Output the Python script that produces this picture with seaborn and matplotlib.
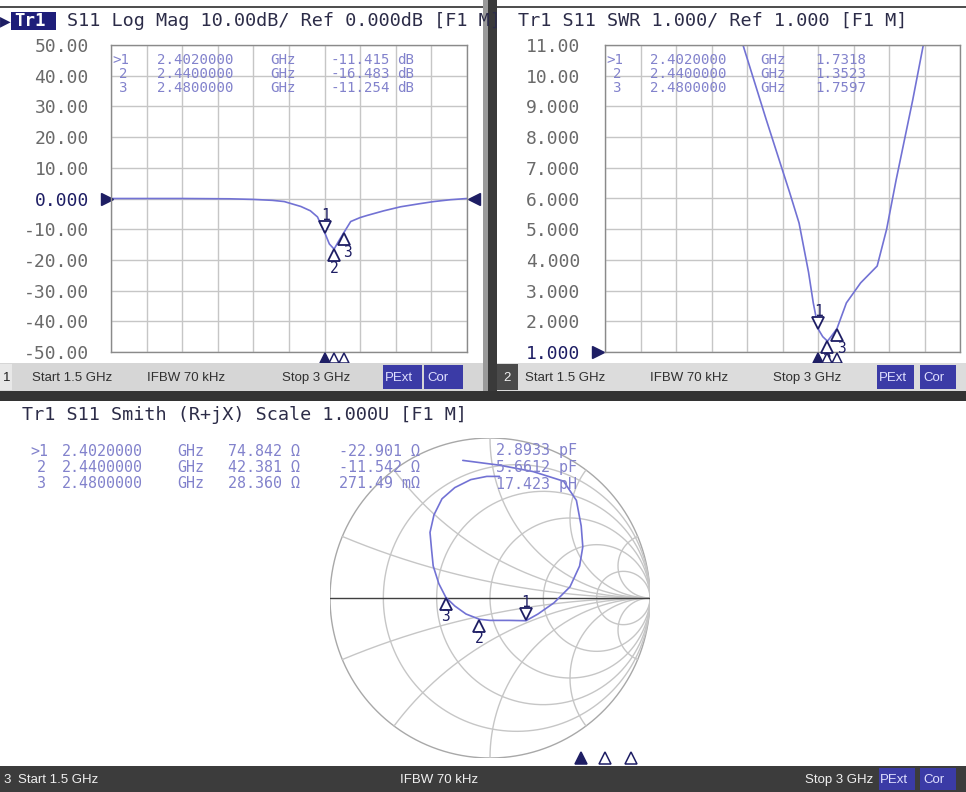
import numpy as np
import seaborn as sns
import matplotlib.pyplot as plt
from matplotlib.patches import Rectangle
from matplotlib import transforms

# ---- values ----
freq_start, freq_stop = 1.5, 3.0  # GHz

# channel 1: S11 log magnitude (dB)
logmag_freq = [1.50, 1.80, 2.00, 2.10, 2.18, 2.23, 2.30, 2.34, 2.37, 2.402, 2.42, 2.44,
               2.46, 2.48, 2.51, 2.55, 2.58, 2.65, 2.72, 2.80, 2.86, 2.93, 3.00]
logmag_db = [0.0, 0.0, -0.1, -0.3, -0.6, -1.0, -2.6, -4.0, -6.0, -11.415, -14.8, -16.483,
             -13.8, -11.254, -7.5, -6.2, -5.5, -4.0, -2.7, -1.7, -1.0, -0.4, 0.0]

# channel 2: S11 SWR
swr_freq = [2.07, 2.083, 2.18, 2.28, 2.32, 2.36, 2.38, 2.402, 2.42, 2.44, 2.46, 2.48,
            2.52, 2.58, 2.65, 2.69, 2.73, 2.80, 2.845, 2.86]
swr_val = [11.6, 11.0, 8.6, 6.2, 5.2, 3.6, 2.6, 1.7318, 1.5, 1.3523, 1.55, 1.7597,
           2.6, 3.25, 3.8, 5.0, 6.6, 9.2, 11.0, 11.6]

# channel 3: S11 on the Smith chart (reflection coefficient)
smith_re = [-0.17, 0.06, 0.27, 0.46, 0.54, 0.57, 0.58, 0.56, 0.50, 0.40, 0.30, 0.225,
            0.12, 0.0, -0.066, -0.15, -0.22, -0.276, -0.32, -0.355, -0.365, -0.375,
            -0.35, -0.30, -0.22, -0.12, -0.02, 0.06]
smith_im = [0.86, 0.83, 0.79, 0.73, 0.61, 0.45, 0.32, 0.20, 0.07, -0.03, -0.10, -0.142,
            -0.14, -0.14, -0.133, -0.10, -0.05, 0.004, 0.09, 0.20, 0.30, 0.41,
            0.52, 0.62, 0.69, 0.74, 0.76, 0.76]

# markers
mk_freq = [2.402, 2.44, 2.48]
mk_freq_txt = ["2.4020000", "2.4400000", "2.4800000"]
mk_db = [-11.415, -16.483, -11.254]
mk_swr = [1.7318, 1.3523, 1.7597]
mk_r = [74.842, 42.381, 28.360]
mk_x = [-22.901, -11.542, 0.27149]
mk_x_txt = ["-22.901 Ω", "-11.542 Ω", "271.49 mΩ"]
mk_lc_txt = ["2.8933 pF", "5.6612 pF", "17.423 pH"]
z0 = 50.0

logmag_ticks = [50, 40, 30, 20, 10, 0, -10, -20, -30, -40, -50]
logmag_tick_txt = ["50.00", "40.00", "30.00", "20.00", "10.00", "0.000",
                   "-10.00", "-20.00", "-30.00", "-40.00", "-50.00"]
swr_ticks = [11, 10, 9, 8, 7, 6, 5, 4, 3, 2, 1]
swr_tick_txt = ["11.00", "10.00", "9.000", "8.000", "7.000", "6.000",
                "5.000", "4.000", "3.000", "2.000", "1.000"]

# ---- styling ----
sns.set_style("white")
plt.rcParams['font.family'] = ['DejaVu Sans Mono']
W, H = 966, 792
trace_c = '#7272d4'
grid_c = '#c6c6c6'
navy = '#1e1e64'
table_c = '#8282cc'
tick_c = '#6a6a6a'
title_c = '#2c2c48'
sans = ['Liberation Sans', 'DejaVu Sans']


def box(x0, y0, x1, y1):
    return [x0 / W, 1 - y1 / H, (x1 - x0) / W, (y1 - y0) / H]


fig = plt.figure(figsize=(W / 100, H / 100), dpi=100)
bg = fig.add_axes([0, 0, 1, 1], zorder=3)
bg.set_xlim(0, W)
bg.set_ylim(H, 0)
bg.axis('off')
bg.patch.set_visible(False)


def rect(x0, y0, x1, y1, color, z=1):
    bg.add_patch(Rectangle((x0, y0), x1 - x0, y1 - y0, color=color, zorder=z, lw=0))


# separators and frames
rect(0, 6, 483, 8, '#505050')
rect(497, 6, W, 8, '#505050')
rect(483, 0, 488, 400, '#9a9a9a', z=3)
rect(488, 0, 497, 400, '#3a3a3a', z=3)
rect(0, 391, W, 401, '#333333', z=3)

# status bars of the two upper channels
rect(0, 363, 483, 391, '#d6d6d6')
rect(0, 364, 12, 390, '#e8e8e8')
rect(497, 363, W, 391, '#dcdcdc')
rect(497, 364, 518, 390, '#4a4a4a')
for x0, x1 in [(383, 422), (424, 463), (877, 914), (920, 956)]:
    rect(x0, 365, x1, 389, '#3b3ba6')
st_kw = dict(fontsize=9.5, family=sans, va='center', zorder=4)
bg.text(3, 378, "1", color='#202020', **st_kw)
bg.text(32, 378, "Start 1.5 GHz", color='#303030', **st_kw)
bg.text(147, 378, "IFBW 70 kHz", color='#303030', **st_kw)
bg.text(282, 378, "Stop 3 GHz", color='#303030', **st_kw)
bg.text(385, 378, "PExt", color='#e0e0ff', **st_kw)
bg.text(427, 378, "Cor", color='#e0e0ff', **st_kw)
bg.text(503, 378, "2", color='#f0f0f0', **st_kw)
bg.text(525, 378, "Start 1.5 GHz", color='#303030', **st_kw)
bg.text(650, 378, "IFBW 70 kHz", color='#303030', **st_kw)
bg.text(773, 378, "Stop 3 GHz", color='#303030', **st_kw)
bg.text(879, 378, "PExt", color='#e0e0ff', **st_kw)
bg.text(923, 378, "Cor", color='#e0e0ff', **st_kw)

# status bar of the Smith channel
rect(0, 766, W, H, '#3c3c3c')
bg.text(3, 780, "3", color='#f0f0f0', **st_kw)
bg.text(18, 780, "Start 1.5 GHz", color='#f0f0f0', **st_kw)
bg.text(400, 780, "IFBW 70 kHz", color='#f0f0f0', **st_kw)
bg.text(805, 780, "Stop 3 GHz", color='#f0f0f0', **st_kw)
rect(879, 768, 915, 790, '#3b3ba6')
rect(920, 768, 956, 790, '#3b3ba6')
bg.text(880, 780, "PExt", color='#e0e0ff', **st_kw)
bg.text(923, 780, "Cor", color='#e0e0ff', **st_kw)

# channel titles
clip_left = Rectangle((0, 0), 483, 30, transform=bg.transData)
bg.text(0, 21, "▶", color=navy, fontsize=10, va='center', family=['DejaVu Sans'])
rect(11, 12, 56, 30, '#1e1e7a')
bg.text(14, 21, "Tr1", color='white', fontsize=12.5, va='center', fontweight='bold')
t = bg.text(67, 21, "S11 Log Mag 10.00dB/ Ref 0.000dB [F1 M]", color=title_c,
            fontsize=13.3, va='center')
t.set_clip_path(clip_left)
bg.text(518, 21, "Tr1 S11 SWR 1.000/ Ref 1.000 [F1 M]", color=title_c,
        fontsize=13.3, va='center')
bg.text(22, 415, "Tr1 S11 Smith (R+jX) Scale 1.000U [F1 M]", color=title_c,
        fontsize=13.3, va='center')


def draw_marker(ax, x, y, label, up, lab_dx=0):
    base = ax.transData
    off = -4.5 if up else 4.5
    tr = transforms.offset_copy(base, fig=fig, x=0, y=off, units='points')
    ax.plot([x], [y], marker='^' if up else 'v', ms=9, mfc='white', mec=navy,
            mew=1.3, transform=tr, clip_on=False, zorder=6, ls='none')
    ax.annotate(label, (x, y), xytext=(lab_dx, -14 if up else 13),
                textcoords='offset points', ha='center', va='center', color=navy,
                fontsize=10.5, zorder=6)


def rect_panel(ax, ticks, tick_txt, ref_idx):
    ax.set_xlim(freq_start, freq_stop)
    ax.set_xticks(np.linspace(freq_start, freq_stop, 11))
    ax.set_yticks(ticks)
    ax.set_xticklabels([])
    ax.set_yticklabels(tick_txt)
    ax.grid(True, color=grid_c, lw=1)
    ax.tick_params(length=0, labelsize=13, labelcolor=tick_c)
    ax.get_yticklabels()[ref_idx].set_color(navy)
    ax.set_xlabel('')
    ax.set_ylabel('')
    for s in ax.spines.values():
        s.set_color('#8a8a8a')
        s.set_linewidth(1)


# ---- channel 1: log magnitude ----
ax1 = fig.add_axes(box(111, 45, 467, 352), zorder=2)
sns.lineplot(x=logmag_freq, y=logmag_db, ax=ax1, color=trace_c, lw=1.2,
             estimator=None, sort=False)
ax1.set_ylim(-50, 50)
rect_panel(ax1, logmag_ticks, logmag_tick_txt, 5)
ax1.tick_params(axis='y', pad=16)
ax1.plot([0.0], [0], marker='>', ms=8, color=navy, transform=transforms.offset_copy(
    ax1.get_yaxis_transform(), fig=fig, x=-3, y=0, units='points'), clip_on=False)
ax1.plot([1.0], [0], marker='<', ms=8, color=navy, transform=transforms.offset_copy(
    ax1.get_yaxis_transform(), fig=fig, x=5, y=0, units='points'), clip_on=False)

draw_marker(ax1, mk_freq[0], mk_db[0], "1", up=False)
draw_marker(ax1, mk_freq[1], mk_db[1], "2", up=True)
draw_marker(ax1, mk_freq[2], mk_db[2], "3", up=True, lab_dx=3)

# ---- channel 2: SWR ----
ax2 = fig.add_axes(box(605, 45, 960, 352), zorder=2)
sns.lineplot(x=swr_freq, y=swr_val, ax=ax2, color=trace_c, lw=1.2,
             estimator=None, sort=False)
ax2.set_ylim(1, 11)
rect_panel(ax2, swr_ticks, swr_tick_txt, 10)
ax2.tick_params(axis='y', pad=18)
ax2.plot([0.0], [1], marker='>', ms=8, color=navy, transform=transforms.offset_copy(
    ax2.get_yaxis_transform(), fig=fig, x=-5, y=0, units='points'), clip_on=False)

draw_marker(ax2, mk_freq[0], mk_swr[0], "1", up=False)
draw_marker(ax2, mk_freq[1], mk_swr[1], "2", up=True)
draw_marker(ax2, mk_freq[2], mk_swr[2], "3", up=True, lab_dx=3)

# marker position indicators below the frequency axis
for ax in (ax1, ax2):
    btr = transforms.blended_transform_factory(ax.transData, ax.transAxes)
    for i, f in enumerate(mk_freq):
        ax.plot([f], [-0.02], marker='^', ms=7, transform=btr, clip_on=False,
                mfc=navy if i == 0 else 'white', mec=navy, mew=1.1, zorder=6)

# marker tables
tbl_kw = dict(color=table_c, fontsize=10.2, va='center', zorder=5)
for i in range(3):
    y = 60 + 14 * i
    bg.text(112 if i == 0 else 119, y, (">" if i == 0 else "") + str(i + 1), **tbl_kw)
    bg.text(157, y, mk_freq_txt[i], **tbl_kw)
    bg.text(270, y, "GHz", **tbl_kw)
    bg.text(390, y, f"{mk_db[i]:.3f}", ha='right', **tbl_kw)
    bg.text(397, y, "dB", **tbl_kw)
    bg.text(606 if i == 0 else 613, y, (">" if i == 0 else "") + str(i + 1), **tbl_kw)
    bg.text(650, y, mk_freq_txt[i], **tbl_kw)
    bg.text(760, y, "GHz", **tbl_kw)
    bg.text(815, y, f"{mk_swr[i]:.4f}", **tbl_kw)

# ---- channel 3: Smith chart ----
ax3 = fig.add_axes(box(330, 438, 650, 758), zorder=2)
ax3.set_xlim(-1, 1)
ax3.set_ylim(-1, 1)
ax3.axis('off')
tt = np.linspace(0, 2 * np.pi, 500)
ax3.plot(np.cos(tt), np.sin(tt), color='#a8a8a8', lw=1)
for r in [0.2, 0.5, 1, 2, 5]:
    c, rad = r / (1 + r), 1 / (1 + r)
    ax3.plot(c + rad * np.cos(tt), rad * np.sin(tt), color=grid_c, lw=1)
rr = np.concatenate([[0], np.logspace(-3, 3, 500)])
for xv in [0.2, 0.5, 1, 2, 5]:
    g = (rr + 1j * xv - 1) / (rr + 1j * xv + 1)
    ax3.plot(g.real, g.imag, color=grid_c, lw=1)
    ax3.plot(g.real, -g.imag, color=grid_c, lw=1)
ax3.plot([-1, 1], [0, 0], color='#404040', lw=1)
sns.lineplot(x=smith_re, y=smith_im, ax=ax3, color=trace_c, lw=1.2,
             estimator=None, sort=False)
ax3.set_xlabel('')
ax3.set_ylabel('')

zm = (np.array(mk_r) + 1j * np.array(mk_x)) / z0
gm = (zm - 1) / (zm + 1)
draw_marker(ax3, gm[0].real, gm[0].imag, "1", up=False)
draw_marker(ax3, gm[1].real, gm[1].imag, "2", up=True)
draw_marker(ax3, gm[2].real, gm[2].imag, "3", up=True)

# frequency-position indicators of the Smith channel (span the full panel width)
axf = fig.add_axes(box(0, 750, W, 766), zorder=2)
axf.set_xlim(freq_start, freq_stop)
axf.set_ylim(0, 1)
axf.axis('off')
for i, f in enumerate(mk_freq):
    axf.plot([f], [0.5], marker='^', ms=8, mfc=navy if i == 0 else 'white',
             mec=navy, mew=1.1)

tbl3_kw = dict(tbl_kw, fontsize=10.8)
for i in range(3):
    y = 451 + 16.5 * i
    bg.text(30 if i == 0 else 37, y, (">" if i == 0 else "") + str(i + 1), **tbl3_kw)
    bg.text(62, y, mk_freq_txt[i], **tbl3_kw)
    bg.text(177, y, "GHz", **tbl3_kw)
    bg.text(300, y, f"{mk_r[i]:.3f} Ω", ha='right', **tbl3_kw)
    bg.text(420, y, mk_x_txt[i], ha='right', **tbl3_kw)
    bg.text(577, y, mk_lc_txt[i], ha='right', **tbl3_kw)

fig.savefig("out.png", dpi=100)
